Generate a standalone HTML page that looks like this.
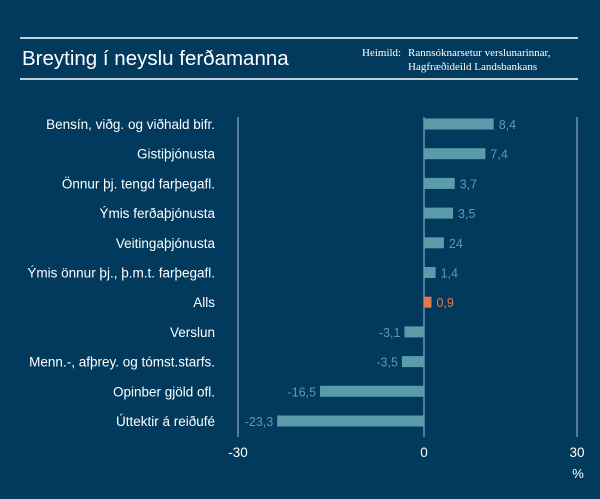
<!DOCTYPE html>
<html><head><meta charset="utf-8"><style>
body{margin:0;background:#023a5e;}
svg{display:block;font-family:"Liberation Sans",sans-serif;}
</style></head><body>
<svg id="c" width="600" height="499">
<rect width="600" height="499" fill="#023a5e"/>
<line x1="20" y1="38" x2="578" y2="38" stroke="#fff" stroke-width="1.5"/>
<line x1="20" y1="79" x2="578" y2="79" stroke="#fff" stroke-width="1.5"/>
<text x="22" y="65" fill="#fff" font-size="20.5">Breyting í neyslu ferðamanna</text>
<text x="362" y="56" fill="#fff" font-size="11" font-family="Liberation Serif,serif">Heimild:</text>
<text x="408" y="56" fill="#fff" font-size="11" font-family="Liberation Serif,serif">Rannsóknarsetur verslunarinnar,</text>
<text x="408" y="70" fill="#fff" font-size="11" font-family="Liberation Serif,serif">Hagfræðideild Landsbankans</text>
<g id="grid"></g><g id="bars"></g>
<text x="578" y="478" fill="#fff" font-size="13" text-anchor="middle">%</text>
</svg>
<script>
const categories=["Bensín, viðg. og viðhald bifr.","Gistiþjónusta","Önnur þj. tengd farþegafl.","Ýmis ferðaþjónusta","Veitingaþjónusta","Ýmis önnur þj., þ.m.t. farþegafl.","Alls","Verslun","Menn.-, afþrey. og tómst.starfs.","Opinber gjöld ofl.","Úttektir á reiðufé"];
const values=[8.4,7.4,3.7,3.5,2.4,1.4,0.9,-3.1,-3.5,-16.5,-23.3];
const valueLabels=["8,4","7,4","3,7","3,5","24","1,4","0,9","-3,1","-3,5","-16,5","-23,3"];
const ticks=[-30,0,30];
const tickLabels=["-30","0","30"];
const NS="http://www.w3.org/2000/svg";
function xTick(v){return v<=0?424+v*6.2:424+v*5.1;}
function xBar(v){return v<=0?424+v*6.3:424+v*8.3;}
function yRow(i){return 124+i*29.7;}
function mk(t,a,p){const e=document.createElementNS(NS,t);for(const k in a)e.setAttribute(k,a[k]);p.appendChild(e);return e;}
const grid=document.getElementById('grid'),bars=document.getElementById('bars');
ticks.forEach((t,i)=>{
 const l=mk('line',{x1:xTick(t),x2:xTick(t),y1:117,y2:437,stroke:'#a9bccc','stroke-width':1},grid);
 
 
 const tx=mk('text',{x:xTick(t),y:457,fill:'#fff','font-size':13.5,'text-anchor':'middle'},grid);
 tx.textContent=tickLabels[i];
 
 
});
categories.forEach((c,i)=>{
 const y=yRow(i),v=values[i],x0=xBar(0),x1=xBar(v);
 const isTotal=c==="Alls";
 const col=isTotal?'#e07b50':'#5b9cab';
 const lab=mk('text',{x:215,y:y+5,fill:'#fff','font-size':13.5,'text-anchor':'end'},bars);
 lab.textContent=c;
 
 
 const r=mk('rect',{x:Math.min(x0,x1),y:y-5.5,width:Math.max(Math.abs(x1-x0),2),height:11,fill:col},bars);
 
 
 const vt=mk('text',{x:v>=0?x1+5:x1-4,y:y+5,fill:col,'font-size':12.5,'text-anchor':v>=0?'start':'end'},bars);
 vt.textContent=valueLabels[i];
 
 
});
</script>
</body></html>
